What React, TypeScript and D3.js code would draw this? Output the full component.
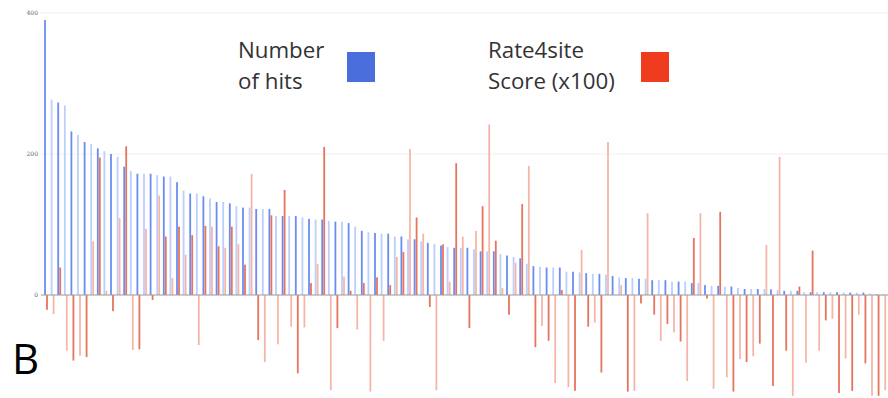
import React from "react";
import * as d3 from "d3";

const hits: number[] = [
  390, 277, 273, 269, 232, 227, 217, 214, 208, 204,
  200, 196, 182, 176, 172, 172, 172, 170, 168, 168,
  160, 148, 144, 144, 140, 137, 132, 132, 130, 126,
  124, 124, 122, 122, 122, 112, 112, 112, 112, 110,
  108, 107, 107, 105, 104, 104, 102, 97, 91, 89,
  88, 87, 87, 83, 83, 79, 79, 76, 74, 72,
  70, 68, 67, 67, 67, 65, 62, 62, 62, 58,
  56, 54, 52, 44, 41, 40, 39, 39, 39, 33,
  33, 32, 31, 30, 30, 29, 27, 25, 24, 24,
  23, 23, 21, 21, 21, 19, 19, 19, 17, 17,
  14, 13, 13, 12, 12, 10, 8.5, 8.5, 8.5, 8.5,
  8, 7, 6, 6, 6, 4, 4, 4, 4, 4,
  4, 3.5, 3.5, 3.5, 3.5, 2, 1, 1,
];

const rate4site: number[] = [
  -21, -27, 39, -79, -93, -86, -88, 76, 195, 6,
  -23, 109, 211, -78, -77, 94, -7, 141, 83, 24,
  97, 57, 85, -71, 98, 97, 69, 67, 97, 72,
  43, 172, -64, -95, 113, -70, 149, -45, -111, -46,
  17, 44, 210, -135, -47, 26, 6, -49, 17, -137,
  25, -65, 14, 54, 61, 207, 110, 87, -17, -135,
  72, 19, 187, 83, -47, 91, 126, 242, 77, 10,
  -28, 46, 129, 183, -74, -44, -65, -125, 7, -131,
  -136, 64, -45, -39, -110, 217, 0, 14, -137, -136,
  -12, 116, -28, -65, -41, -53, -66, -122, 81, 116,
  -5, -133, 118, -117, -137, -91, -95, -87, -69, 71,
  -129, 196, -79, -143, 12, -96, 63, -79, -36, -34,
  -139, -90, -136, -28, -97, -143, -143, -135,
];

const categories: string[] = hits.map((_, i) => String(i + 1));
const yTicks: number[] = [0, 200, 400];
const legendHits: string[] = ["Number", "of hits"];
const legendRate: string[] = ["Rate4site", "Score (x100)"];
const panelLabel = "B";

export default function App() {
  const W = 888;
  const H = 398;
  const x = d3.scaleBand<string>().domain(categories).range([43, 43 + 6.6 * categories.length]).padding(0);
  const y = d3.scaleLinear().domain([0, 400]).range([295, 13]);
  const bw = 1.8;

  const blueDark = "#6a8ef0";
  const blueLight = "#bccefa";
  const redDark = "#e6755f";
  const redLight = "#f5b6aa";

  return (
    <svg
      width={W}
      height={H}
      style={{ position: "absolute", left: 0, top: 0, display: "block", background: "#fff" }}
      fontFamily="'Open Sans', sans-serif"
    >
      {yTicks.filter((t) => t > 0).map((t) => (
        <line key={"g" + t} x1={40} x2={W} y1={y(t)} y2={y(t)} stroke="#f0f0f0" strokeWidth={1} />
      ))}
      {yTicks.map((t) => (
        <text key={"t" + t} x={38} y={y(t)} dy="0.35em" textAnchor="end" fontSize={6} fill="#666" fontFamily="DejaVu Serif, serif">
          {t}
        </text>
      ))}
      {categories.map((c, i) => {
        const x0 = x(c) as number;
        const v = hits[i];
        return (
          <rect
            key={"b" + c}
            x={x0 + 2 - bw / 2}
            y={y(v)}
            width={bw}
            height={y(0) - y(v)}
            fill={i % 2 === 0 ? blueDark : blueLight}
          />
        );
      })}
      {categories.map((c, i) => {
        const x0 = x(c) as number;
        const v = rate4site[i];
        const top = Math.min(y(v), y(0));
        const h = Math.abs(y(v) - y(0));
        return (
          <rect
            key={"r" + c}
            x={x0 + 4 - bw / 2}
            y={top}
            width={bw}
            height={h}
            fill={i % 2 === 0 ? redDark : redLight}
          />
        );
      })}
      <line x1={41} x2={W} y1={y(0)} y2={y(0)} stroke="#999" strokeWidth={1.2} />

      <g fill="#333" fontSize={22.3}>
        {legendHits.map((s, i) => (
          <text key={"lh" + i} x={238} y={58 + i * 31}>{s}</text>
        ))}
        {legendRate.map((s, i) => (
          <text key={"lr" + i} x={488} y={58 + i * 31}>{s}</text>
        ))}
      </g>
      <rect x={347} y={52} width={28} height={30} fill="#4a6fdc" />
      <rect x={641} y={52} width={28} height={30} fill="#f03c1e" />

      <text x={12} y={374} fontSize={42} fill="#000" fontFamily="'Open Sans', sans-serif">{panelLabel}</text>
    </svg>
  );
}
